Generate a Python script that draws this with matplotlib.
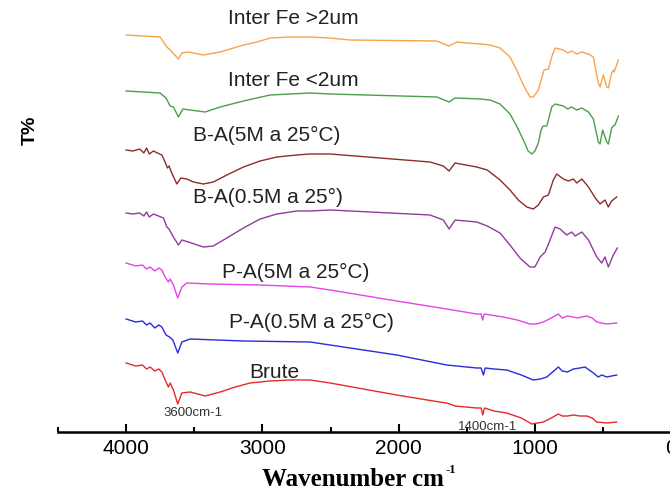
import matplotlib.pyplot as plt
from matplotlib.ticker import MultipleLocator

# FTIR spectra, stacked (arbitrary offset units)
wn_fe_big = [4000, 3751, 3701, 3677, 3616, 3591, 3543, 3433, 3310, 3139, 3041, 2943, 2797, 2650,
             2503, 2357, 1720, 1630, 1574, 1500, 1400, 1329, 1256, 1183, 1134, 1085, 1036, 1012,
             975, 950, 933, 901, 877, 852, 791, 760, 730, 693, 656, 607, 571, 535, 522, 498,
             473, 461, 437, 425, 418, 388]
t_fe_big = [397, 395, 385, 382, 373, 379, 380, 377, 380, 387, 390, 394, 395, 395,
            394, 392, 391, 386, 390, 389, 388, 387, 384, 375, 362, 347, 335, 335,
            342, 354, 362, 363, 375, 384, 382, 379, 381, 378, 380, 378, 375, 349, 345, 357,
            345, 344, 359, 362, 360, 372]

wn_fe_small = [4000, 3751, 3707, 3677, 3653, 3616, 3584, 3530, 3420, 3310, 3139, 3041, 2943,
               2797, 2650, 2503, 1720, 1630, 1586, 1400, 1329, 1256, 1183, 1134, 1085, 1050,
               1023, 1000, 975, 955, 940, 913, 890, 877, 852, 791, 760, 730, 693, 656, 607,
               571, 535, 522, 503, 473, 461, 437, 425, 412, 388]
t_fe_small = [341, 339, 334, 326, 325, 315, 323, 322, 320, 325, 331, 334, 337,
              338, 339, 338, 335, 330, 334, 333, 332, 328, 318, 306, 292, 281,
              278, 281, 289, 302, 306, 306, 318, 325, 328, 326, 323, 325, 322, 324, 320,
              313, 290, 288, 302, 290, 288, 304, 306, 307, 316]

wn_ba_5 = [4000, 3950, 3900, 3870, 3850, 3830, 3800, 3770, 3738, 3714, 3697, 3685, 3665, 3628,
           3599, 3555, 3506, 3433, 3360, 3261, 3139, 3017, 2894, 2748, 2650, 2503, 1770, 1672,
           1630, 1586, 1427, 1350, 1256, 1183, 1122, 1060, 1012, 975, 938, 901, 865, 840,
           791, 754, 718, 693, 656, 607, 557, 522, 486, 461, 437, 400]
t_ba_5 = [282, 281, 283, 279, 284, 278, 281, 279, 277, 270, 264, 266, 259, 248,
          254, 253, 250, 248, 250, 257, 265, 271, 275, 277, 278, 278, 270, 266,
          261, 269, 265, 262, 252, 242, 232, 225, 223, 227, 235, 237, 252, 258,
          253, 251, 253, 249, 253, 245, 234, 228, 232, 225, 231, 235]

wn_ba_05 = [4000, 3950, 3900, 3870, 3850, 3830, 3800, 3726, 3701, 3685, 3653, 3616, 3591,
            3543, 3433, 3360, 3261, 3139, 3017, 2894, 2748, 2650, 2503, 1770, 1672, 1630,
            1586, 1427, 1350, 1256, 1183, 1110, 1036, 1000, 962, 925, 889, 852, 815, 767,
            730, 705, 656, 607, 546, 510, 486, 461, 425, 395]
t_ba_05 = [219, 218, 219, 216, 220, 215, 218, 214, 205, 203, 195, 187, 192,
           190, 185, 186, 194, 204, 213, 218, 221, 221, 222, 217, 212, 203,
           212, 210, 206, 199, 187, 174, 165, 165, 175, 180, 192, 205, 203, 197,
           200, 196, 200, 192, 175, 169, 175, 165, 177, 184]

wn_pa_5 = [4000, 3930, 3880, 3850, 3824, 3790, 3760, 3738, 3714, 3690, 3677, 3653, 3621, 3591,
           3555, 3384, 3017, 2650, 2503, 2014, 1647, 1427, 1395, 1384, 1372, 1232, 1130,
           1036, 990, 938, 880, 828, 800, 760, 718, 690, 620, 580, 546, 473, 400]
t_pa_5 = [169, 166, 167, 163, 165, 161, 164, 162, 155, 150, 153, 147, 134, 145,
          149, 148, 147, 145, 142, 131, 123, 118, 118, 112, 118, 115, 112,
          108, 108, 110, 114, 118, 114, 116, 115, 114, 116, 114, 110, 108, 109]

wn_pa_05 = [4000, 3930, 3880, 3850, 3824, 3790, 3760, 3738, 3707, 3682, 3657, 3621, 3591,
            3530, 3139, 2650, 2503, 2014, 1647, 1427, 1395, 1378, 1365, 1300, 1207, 1100,
            1012, 960, 913, 870, 828, 800, 760, 718, 670, 632, 571, 535, 510, 473, 400]
t_pa_05 = [113, 110, 111, 107, 109, 104, 107, 105, 97, 95, 92, 79, 90,
           93, 91, 90, 87, 77, 67, 64, 64, 57, 64, 63, 62, 57,
           52, 53, 55, 60, 65, 61, 60, 63, 64, 65, 59, 55, 57, 55, 57]

wn_brute = [4000, 3930, 3880, 3850, 3824, 3790, 3760, 3738, 3707, 3690, 3677, 3653, 3621,
            3591, 3530, 3420, 3310, 3200, 3090, 2943, 2800, 2650, 2503, 2014, 1700, 1647,
            1586, 1427, 1395, 1383, 1370, 1300, 1207, 1100, 1023, 980, 938, 880, 828, 800,
            760, 718, 670, 620, 580, 546, 473, 400]
t_brute = [69, 66, 67, 63, 65, 61, 63, 60, 50, 45, 49, 42, 28,
           39, 40, 36, 40, 45, 49, 51, 52, 52, 49, 37, 30, 29,
           26, 24, 24, 17, 24, 21, 19, 14, 8, 9, 10, 14, 18, 16,
           16, 17, 16, 16, 14, 10, 9, 10]

labels = ['Inter Fe >2um', 'Inter Fe <2um', 'B-A(5M a 25°C)', 'B-A(0.5M a 25°)',
          'P-A(5M a 25°C)', 'P-A(0.5M a 25°C)', 'Brute']
label_x = [3252, 3252, 3511, 3511, 3298, 3242, 3095]
label_y = [414, 352, 297, 235, 160, 110, 60]

colors = ['#f5a54c', '#4c9e4c', '#8b2d2d', '#8e3c9c', '#e444e4', '#2a2ae0', '#e52a2a']

series = [(wn_fe_big, t_fe_big), (wn_fe_small, t_fe_small), (wn_ba_5, t_ba_5),
          (wn_ba_05, t_ba_05), (wn_pa_5, t_pa_5), (wn_pa_05, t_pa_05), (wn_brute, t_brute)]

plt.rcParams['font.family'] = ['Liberation Sans', 'DejaVu Sans']

fig = plt.figure(figsize=(6.7, 4.91), dpi=100)
ax = fig.add_axes([58 / 670, 59 / 491, 620 / 670, 432 / 491])

for (x, y), c in zip(series, colors):
    ax.plot(x, y, color=c, lw=1.0)

for txt, x, y in zip(labels, label_x, label_y):
    ax.text(x, y, txt, fontsize=15, ha='left', va='center', color='#222222')

ax.text(3726, 19, '3600cm-1', fontsize=9.5, ha='left', va='center', color='#333333')
ax.text(1564, 5, '1400cm-1', fontsize=9.5, ha='left', va='center', color='#333333')

ax.set_xlim(4500, -50)
ax.set_ylim(0, 432)
ax.xaxis.set_major_locator(MultipleLocator(1000))
ax.xaxis.set_minor_locator(MultipleLocator(500))
ax.tick_params(axis='x', which='major', direction='in', length=6, width=1.5,
               labelsize=15, pad=5)
ax.tick_params(axis='x', which='minor', direction='in', length=3.5, width=1.5)
ax.set_yticks([])
for s in ['left', 'top', 'right']:
    ax.spines[s].set_visible(False)
ax.spines['bottom'].set_linewidth(1.8)

fig.text(30 / 670, 1 - 130 / 491, 'T%', rotation=90, fontsize=14,
         fontweight='bold', ha='center', va='center')
fig.text(262 / 670, 1 - 479 / 491, 'Wavenumber cm', fontsize=18,
         fontweight='bold', family='Liberation Serif', ha='left', va='center')
fig.text(446 / 670, 1 - 470 / 491, '-1', fontsize=9,
         fontweight='bold', family='Liberation Serif', ha='left', va='center')

fig.savefig('out.png', dpi=100)
